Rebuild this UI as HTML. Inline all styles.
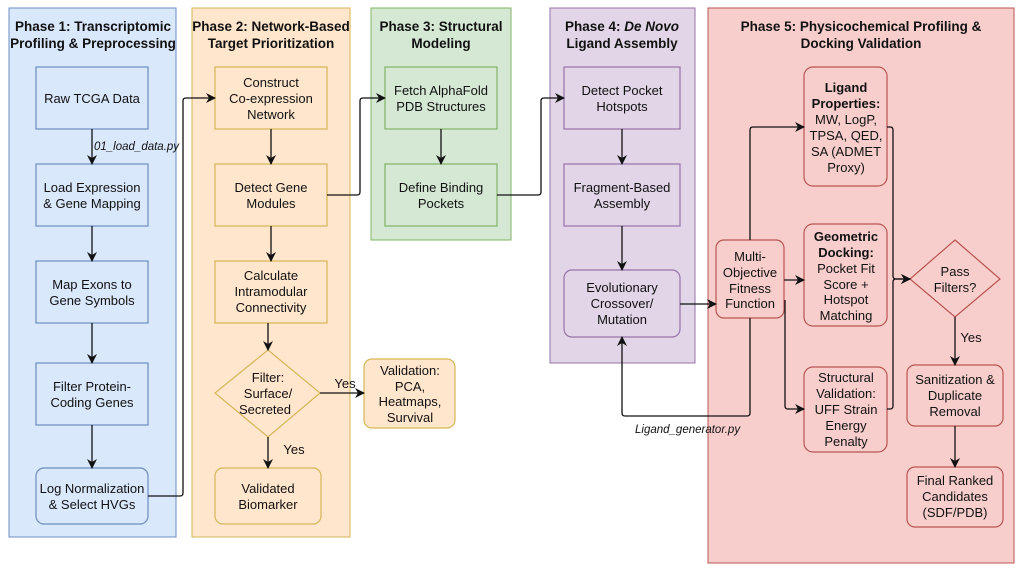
<!DOCTYPE html>
<html><head><meta charset="utf-8"><style>
html,body{margin:0;padding:0;background:#fff;}
svg{display:block;font-family:"Liberation Sans",Arial,sans-serif;}
</style></head><body>
<svg width="1024" height="572" viewBox="0 0 1024 572" xmlns="http://www.w3.org/2000/svg">
<defs><marker id="a" markerWidth="10" markerHeight="10" refX="9" refY="5" orient="auto" markerUnits="userSpaceOnUse"><path d="M0,0 L10,5 L0,10 L3,5 z" fill="#111"/></marker></defs>
<rect x="9" y="8" width="167" height="529" fill="#dae8fc" stroke="#6c8ebf"/>
<rect x="192" y="8" width="158" height="529" fill="#ffe6cc" stroke="#d6b656"/>
<rect x="371" y="8" width="140" height="232" fill="#d5e8d4" stroke="#82b366"/>
<rect x="550" y="8" width="145" height="355" fill="#e1d5e7" stroke="#9673a6"/>
<rect x="708" y="8" width="306" height="555" fill="#f8cecc" stroke="#b85450"/>
<g font-weight="bold" font-size="13.5" text-anchor="middle" fill="#111">
<text x="93" y="31">Phase 1: Transcriptomic</text><text x="93" y="48">Profiling &amp; Preprocessing</text>
<text x="271" y="31">Phase 2: Network-Based</text><text x="271" y="48">Target Prioritization</text>
<text x="441" y="31">Phase 3: Structural</text><text x="441" y="48">Modeling</text>
<text x="622" y="31">Phase 4: <tspan font-style="italic">De Novo</tspan></text><text x="622" y="48">Ligand Assembly</text>
<text x="861" y="31">Phase 5: Physicochemical Profiling &amp;</text><text x="861" y="48">Docking Validation</text>
</g>
<g stroke-width="1.2">
<rect x="36" y="67" width="112" height="62" fill="#dae8fc" stroke="#6c8ebf"/>
<rect x="36" y="164" width="112" height="62" fill="#dae8fc" stroke="#6c8ebf"/>
<rect x="36" y="261" width="112" height="62" fill="#dae8fc" stroke="#6c8ebf"/>
<rect x="36" y="363" width="112" height="62" fill="#dae8fc" stroke="#6c8ebf"/>
<rect x="36" y="468" width="112" height="56" rx="8" fill="#dae8fc" stroke="#6c8ebf"/>
<rect x="215" y="67" width="112" height="62" fill="#ffe6cc" stroke="#d6b656"/>
<rect x="215" y="164" width="112" height="62" fill="#ffe6cc" stroke="#d6b656"/>
<rect x="215" y="261" width="112" height="62" fill="#ffe6cc" stroke="#d6b656"/>
<polygon points="268,350 320,393 268,437 215,393" fill="#ffe6cc" stroke="#d6b656"/>
<rect x="215" y="468" width="106" height="56" rx="8" fill="#ffe6cc" stroke="#d6b656"/>
<rect x="364" y="359" width="91" height="69" rx="8" fill="#ffe6cc" stroke="#d6b656"/>
<rect x="385" y="67" width="112" height="62" fill="#d5e8d4" stroke="#82b366"/>
<rect x="385" y="164" width="112" height="62" fill="#d5e8d4" stroke="#82b366"/>
<rect x="564" y="67" width="116" height="62" fill="#e1d5e7" stroke="#9673a6"/>
<rect x="564" y="164" width="116" height="62" fill="#e1d5e7" stroke="#9673a6"/>
<rect x="564" y="270" width="116" height="67" rx="8" fill="#e1d5e7" stroke="#9673a6"/>
<rect x="716" y="240" width="68" height="78" rx="8" fill="#f8cecc" stroke="#b85450"/>
<rect x="804" y="67" width="83" height="119" rx="9" fill="#f8cecc" stroke="#b85450"/>
<rect x="804" y="224" width="83" height="102" rx="9" fill="#f8cecc" stroke="#b85450"/>
<rect x="804" y="367" width="83" height="85" rx="9" fill="#f8cecc" stroke="#b85450"/>
<polygon points="955,240 1000,279 955,317 910,279" fill="#f8cecc" stroke="#b85450"/>
<rect x="907" y="365" width="96" height="61" rx="8" fill="#f8cecc" stroke="#b85450"/>
<rect x="907" y="467" width="96" height="60" rx="8" fill="#f8cecc" stroke="#b85450"/>
</g>
<g fill="none" stroke="#111" stroke-width="1.3" marker-end="url(#a)">
<path d="M92,129 V164"/><path d="M92,226 V261"/><path d="M92,323 V363"/><path d="M92,425 V468"/>
<path d="M148,496 H180 Q183,496 183,493 V101 Q183,98 186,98 H215"/>
<path d="M271,129 V164"/><path d="M271,226 V261"/><path d="M268,323 V350"/><path d="M268,437 V468"/>
<path d="M320,393 H364"/>
<path d="M327,195 H357 Q360,195 360,192 V101 Q360,98 363,98 H385"/>
<path d="M441,129 V164"/>
<path d="M497,195 H538 Q541,195 541,192 V101 Q541,98 544,98 H564"/>
<path d="M622,129 V164"/><path d="M622,226 V270"/>
<path d="M680,304 H716"/>
<path d="M750,240 V130 Q750,127 753,127 H804"/>
<path d="M784,280 H804"/>
<path d="M785,300 V406 Q785,409 788,409 H804"/>
<path d="M750,318 V413 Q750,416 747,416 H625 Q622,416 622,413 V337"/>
<path d="M887,127 H890 Q893,127 893,130 V276 Q893,279 896,279 H910"/>
<path d="M887,409 H890 Q893,409 893,406 V282 Q893,279 896,279 H910"/>
<path d="M955,317 V365"/><path d="M955,426 V467"/>
</g>
<g font-size="13" text-anchor="middle" fill="#111">
<text x="92" y="103">Raw TCGA Data</text>
<text x="92" y="192">Load Expression</text><text x="92" y="208">&amp; Gene Mapping</text>
<text x="92" y="289">Map Exons to</text><text x="92" y="305">Gene Symbols</text>
<text x="92" y="391">Filter Protein-</text><text x="92" y="407">Coding Genes</text>
<text x="92" y="493">Log Normalization</text><text x="92" y="509">&amp; Select HVGs</text>
<text x="271" y="87">Construct</text><text x="271" y="103">Co-expression</text><text x="271" y="119">Network</text>
<text x="271" y="192">Detect Gene</text><text x="271" y="208">Modules</text>
<text x="271" y="280">Calculate</text><text x="271" y="296">Intramodular</text><text x="271" y="312">Connectivity</text>
<text x="268" y="382">Filter:</text><text x="268" y="398">Surface/</text><text x="265" y="414">Secreted</text>
<text x="268" y="493">Validated</text><text x="268" y="509">Biomarker</text>
<text x="410" y="375">Validation:</text><text x="410" y="391">PCA,</text><text x="410" y="406">Heatmaps,</text><text x="410" y="422">Survival</text>
<text x="441" y="95">Fetch AlphaFold</text><text x="441" y="111">PDB Structures</text>
<text x="441" y="192">Define Binding</text><text x="441" y="208">Pockets</text>
<text x="622" y="95">Detect Pocket</text><text x="622" y="111">Hotspots</text>
<text x="622" y="192">Fragment-Based</text><text x="622" y="208">Assembly</text>
<text x="622" y="292">Evolutionary</text><text x="622" y="308">Crossover/</text><text x="622" y="324">Mutation</text>
<text x="750" y="261">Multi-</text><text x="750" y="277">Objective</text><text x="750" y="293">Fitness</text><text x="750" y="308">Function</text>
<text x="846" y="92" font-weight="bold">Ligand</text><text x="846" y="108" font-weight="bold">Properties:</text>
<text x="846" y="124">MW, LogP,</text><text x="846" y="140">TPSA, QED,</text><text x="846" y="156">SA (ADMET</text><text x="846" y="172">Proxy)</text>
<text x="846" y="241" font-weight="bold">Geometric</text><text x="846" y="257" font-weight="bold">Docking:</text>
<text x="846" y="273">Pocket Fit</text><text x="846" y="289">Score +</text><text x="846" y="304">Hotspot</text><text x="846" y="320">Matching</text>
<text x="846" y="382">Structural</text><text x="846" y="398">Validation:</text><text x="846" y="414">UFF Strain</text><text x="846" y="430">Energy</text><text x="846" y="446">Penalty</text>
<text x="955" y="276">Pass</text><text x="955" y="292">Filters?</text>
<text x="955" y="384">Sanitization &amp;</text><text x="955" y="400">Duplicate</text><text x="955" y="416">Removal</text>
<text x="955" y="485">Final Ranked</text><text x="955" y="501">Candidates</text><text x="955" y="517">(SDF/PDB)</text>
<text x="345" y="388">Yes</text><text x="294" y="454">Yes</text><text x="971" y="342">Yes</text>
</g>
<g font-size="11.5" font-style="italic" fill="#111">
<text x="94" y="150">01_load_data.py</text>
<text x="635" y="433">Ligand_generator.py</text>
</g>
</svg>
</body></html>
